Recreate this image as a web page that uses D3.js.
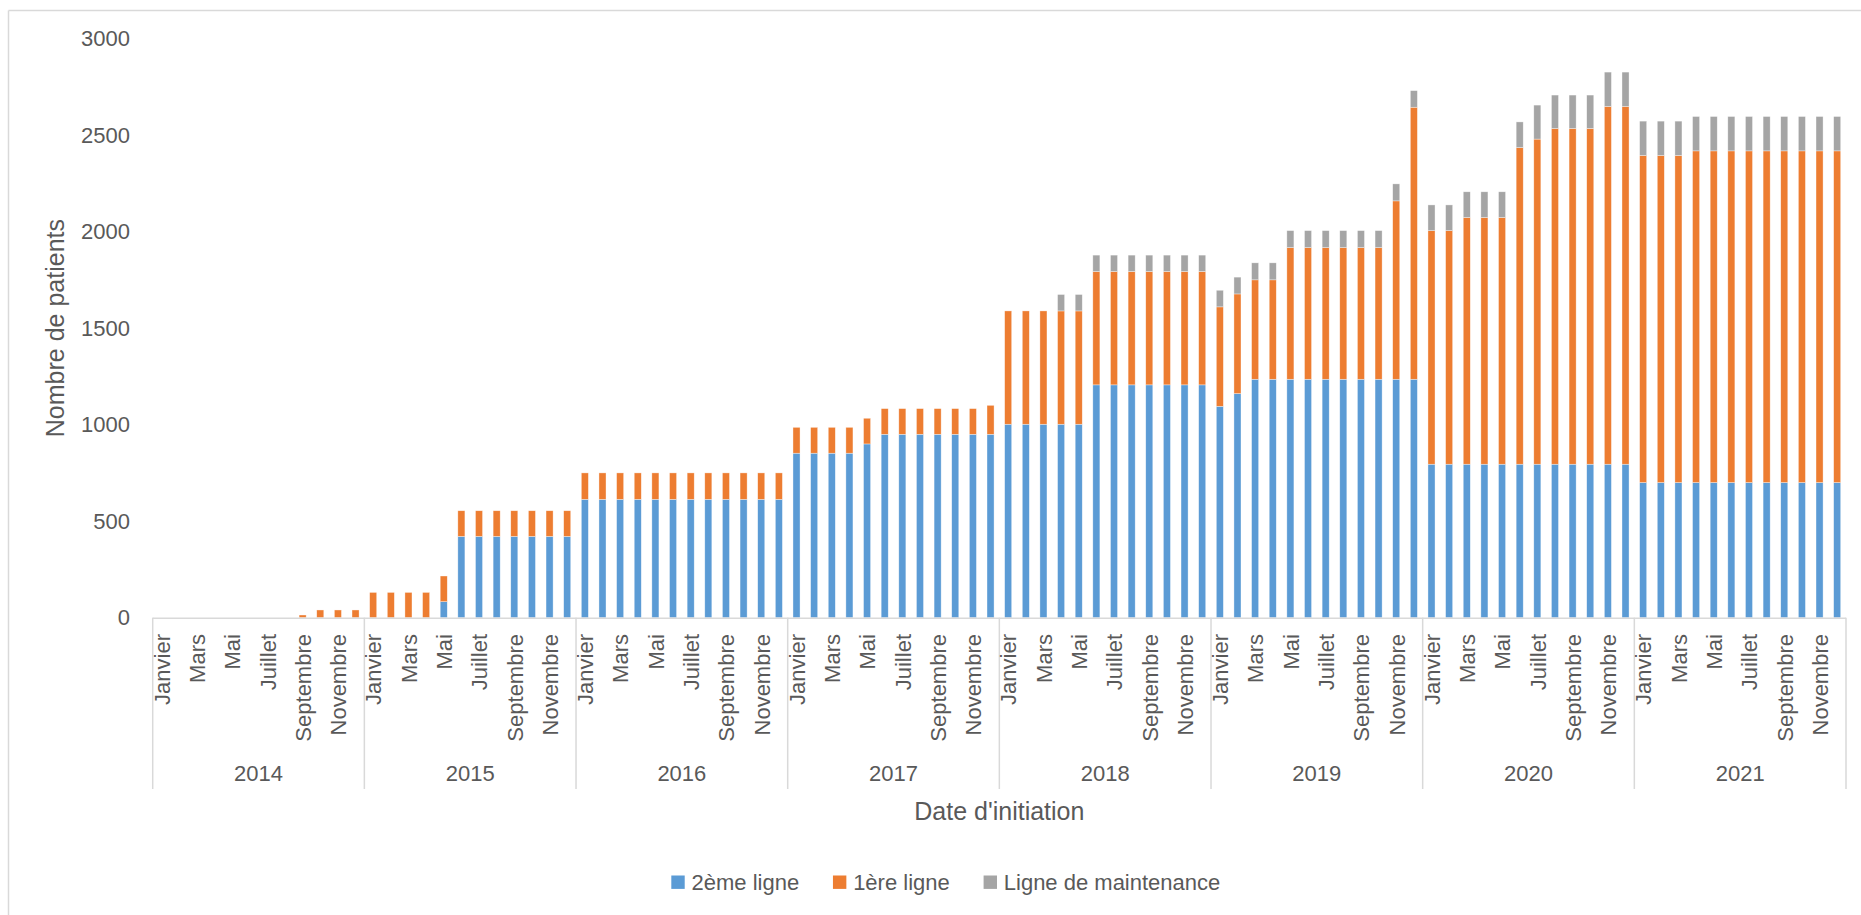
<!DOCTYPE html>
<html>
<head>
<meta charset="utf-8">
<script src="https://cdn.jsdelivr.net/npm/d3@7"></script>
<style>
  html, body { margin: 0; padding: 0; background: #ffffff; }
  svg { display: block; }
  text { font-family: "Liberation Sans", Arial, sans-serif; fill: #595959; }
</style>
</head>
<body>
<svg id="chart" width="1861" height="915"></svg>
<script>
// ---- Data ----
const years = ["2014", "2015", "2016", "2017", "2018", "2019", "2020", "2021"];
const months = ["Janvier", "Février", "Mars", "Avril", "Mai", "Juin", "Juillet", "Août", "Septembre", "Octobre", "Novembre", "Décembre"];
const seriesNames = ["2ème ligne", "1ère ligne", "Ligne de maintenance"];
const seriesColors = ["#5B9BD5", "#ED7D31", "#A5A5A5"];
const yTicks = [0, 500, 1000, 1500, 2000, 2500, 3000];

const deuxiemeLigne = [
  0, 0, 0, 0, 0, 0, 0, 0, 0, 0, 0, 0,
  0, 0, 0, 0, 83, 421, 421, 421, 421, 421, 421, 421,
  613, 613, 613, 613, 613, 613, 613, 613, 613, 613, 613, 613,
  852, 852, 852, 852, 900, 950, 950, 950, 950, 950, 950, 950,
  1002, 1002, 1002, 1002, 1002, 1206, 1206, 1206, 1206, 1206, 1206, 1206,
  1095, 1161, 1235, 1235, 1235, 1235, 1235, 1235, 1235, 1235, 1235, 1235,
  795, 795, 795, 795, 795, 795, 795, 795, 795, 795, 795, 795,
  700, 700, 700, 700, 700, 700, 700, 700, 700, 700, 700, 700
];
const premiereLigne = [
  0, 0, 0, 0, 0, 0, 0, 0, 14, 40, 40, 40,
  131, 131, 131, 131, 133, 133, 133, 133, 133, 133, 133, 133,
  137, 137, 137, 137, 137, 137, 137, 137, 137, 137, 137, 137,
  134, 134, 134, 134, 133, 133, 133, 133, 133, 133, 133, 150,
  587, 587, 587, 587, 587, 587, 587, 587, 587, 587, 587, 587,
  515, 516, 515, 515, 682, 682, 682, 682, 682, 682, 924, 1409,
  1210, 1210, 1278, 1278, 1278, 1640, 1684, 1739, 1739, 1739, 1853, 1853,
  1694, 1694, 1694, 1718, 1718, 1718, 1718, 1718, 1718, 1718, 1718, 1718
];
const ligneMaintenance = [
  0, 0, 0, 0, 0, 0, 0, 0, 0, 0, 0, 0,
  0, 0, 0, 0, 0, 0, 0, 0, 0, 0, 0, 0,
  0, 0, 0, 0, 0, 0, 0, 0, 0, 0, 0, 0,
  0, 0, 0, 0, 0, 0, 0, 0, 0, 0, 0, 0,
  0, 0, 0, 85, 85, 85, 85, 85, 85, 85, 85, 85,
  86, 87, 88, 88, 88, 88, 88, 88, 88, 88, 88, 86,
  133, 133, 133, 133, 133, 133, 176, 173, 173, 173, 178, 178,
  178, 178, 178, 178, 178, 178, 178, 178, 178, 178, 178, 178
];

// ---- Build table ----
const rows = [];
years.forEach((y, yi) => {
  months.forEach((m, mi) => {
    const i = yi * 12 + mi;
    rows.push({
      key: y + "-" + mi, year: y, month: m, mi: mi,
      "2ème ligne": deuxiemeLigne[i],
      "1ère ligne": premiereLigne[i],
      "Ligne de maintenance": ligneMaintenance[i]
    });
  });
});

// ---- Layout ----
const svg = d3.select("#chart");
const plotLeft = 152.7, plotRight = 1846, plotTop = 38.5, plotBottom = 617.7;

const x = d3.scaleBand()
  .domain(rows.map(d => d.key))
  .range([plotLeft, plotRight])
  .paddingInner(0.6)
  .paddingOuter(0.3);
const step = x.step();

const yScale = d3.scaleLinear().domain([0, 3000]).range([plotBottom, plotTop]);
const color = d3.scaleOrdinal().domain(seriesNames).range(seriesColors);

// chart area border (top & left visible)
svg.append("line").attr("x1", 8.5).attr("x2", 1861).attr("y1", 10.5).attr("y2", 10.5)
  .attr("stroke", "#D9D9D9").attr("stroke-width", 1.5);
svg.append("line").attr("x1", 8.5).attr("x2", 8.5).attr("y1", 10.5).attr("y2", 915)
  .attr("stroke", "#D9D9D9").attr("stroke-width", 1.5);

// bars
const stacked = d3.stack().keys(seriesNames)(rows);
svg.append("g").selectAll("g")
  .data(stacked)
  .join("g")
  .attr("fill", d => color(d.key))
  .selectAll("rect")
  .data(d => d)
  .join("rect")
  .attr("x", d => x(d.data.key))
  .attr("width", x.bandwidth())
  .attr("y", d => yScale(d[1]))
  .attr("height", d => Math.max(0, yScale(d[0]) - yScale(d[1])))
  .attr("stroke", "#ffffff")
  .attr("stroke-width", d => (d[1] - d[0]) > 0 ? 0.6 : 0)
  .attr("stroke-opacity", 0.6);

// y axis (labels only)
const yAxis = d3.axisLeft(yScale).tickValues(yTicks).tickFormat(d3.format("d"))
  .tickSize(0).tickPadding(22.7);
const gy = svg.append("g").attr("transform", `translate(${plotLeft},0)`).call(yAxis);
gy.select(".domain").remove();
gy.selectAll("text").attr("font-size", 22).attr("fill", "#595959")
  .style("font-family", '"Liberation Sans", Arial, sans-serif');

// x axis line
svg.append("line").attr("x1", plotLeft).attr("x2", plotRight)
  .attr("y1", plotBottom + 0.5).attr("y2", plotBottom + 0.5)
  .attr("stroke", "#D9D9D9").attr("stroke-width", 1.5);

// year dividers
const yearBounds = years.map(y => x(y + "-0") - x.paddingOuter() * step).concat([plotRight]);
svg.append("g").selectAll("line").data(yearBounds).join("line")
  .attr("x1", d => d).attr("x2", d => d)
  .attr("y1", plotBottom).attr("y2", 789)
  .attr("stroke", "#D9D9D9").attr("stroke-width", 1.5);

// month labels (every other month)
svg.append("g").selectAll("text")
  .data(rows.filter(d => d.mi % 2 === 0))
  .join("text")
  .attr("transform", d => `translate(${x(d.key) + x.bandwidth() / 2 + 8.3},634) rotate(-90)`)
  .attr("text-anchor", "end")
  .attr("font-size", 22)
  .text(d => d.month);

// year labels
svg.append("g").selectAll("text")
  .data(years)
  .join("text")
  .attr("x", (d, i) => (yearBounds[i] + yearBounds[i + 1]) / 2)
  .attr("y", 781)
  .attr("text-anchor", "middle")
  .attr("font-size", 22)
  .text(d => d);

// axis titles
svg.append("text")
  .attr("x", (plotLeft + plotRight) / 2).attr("y", 820)
  .attr("text-anchor", "middle").attr("font-size", 25)
  .text("Date d'initiation");
svg.append("text")
  .attr("transform", `translate(64,${(plotTop + plotBottom) / 2}) rotate(-90)`)
  .attr("text-anchor", "middle").attr("font-size", 25)
  .text("Nombre de patients");

// legend
const legend = svg.append("g");
const items = legend.selectAll("g").data(seriesNames).join("g");
items.append("rect").attr("width", 13.4).attr("height", 13.4)
  .attr("y", 875.5).attr("fill", d => color(d));
items.append("text").attr("x", 20.2).attr("y", 890).attr("font-size", 22).text(d => d);
let cursor = 0;
const widths = [];
items.each(function () {
  const w = 20.2 + this.querySelector("text").getComputedTextLength();
  widths.push(w);
});
const gap = 33.8;
const total = d3.sum(widths) + gap * (widths.length - 1);
const legendCenter = 945.8;
cursor = legendCenter - total / 2;
items.attr("transform", (d, i) => {
  const tx = cursor;
  cursor += widths[i] + gap;
  return `translate(${tx},0)`;
});
</script>
</body>
</html>
